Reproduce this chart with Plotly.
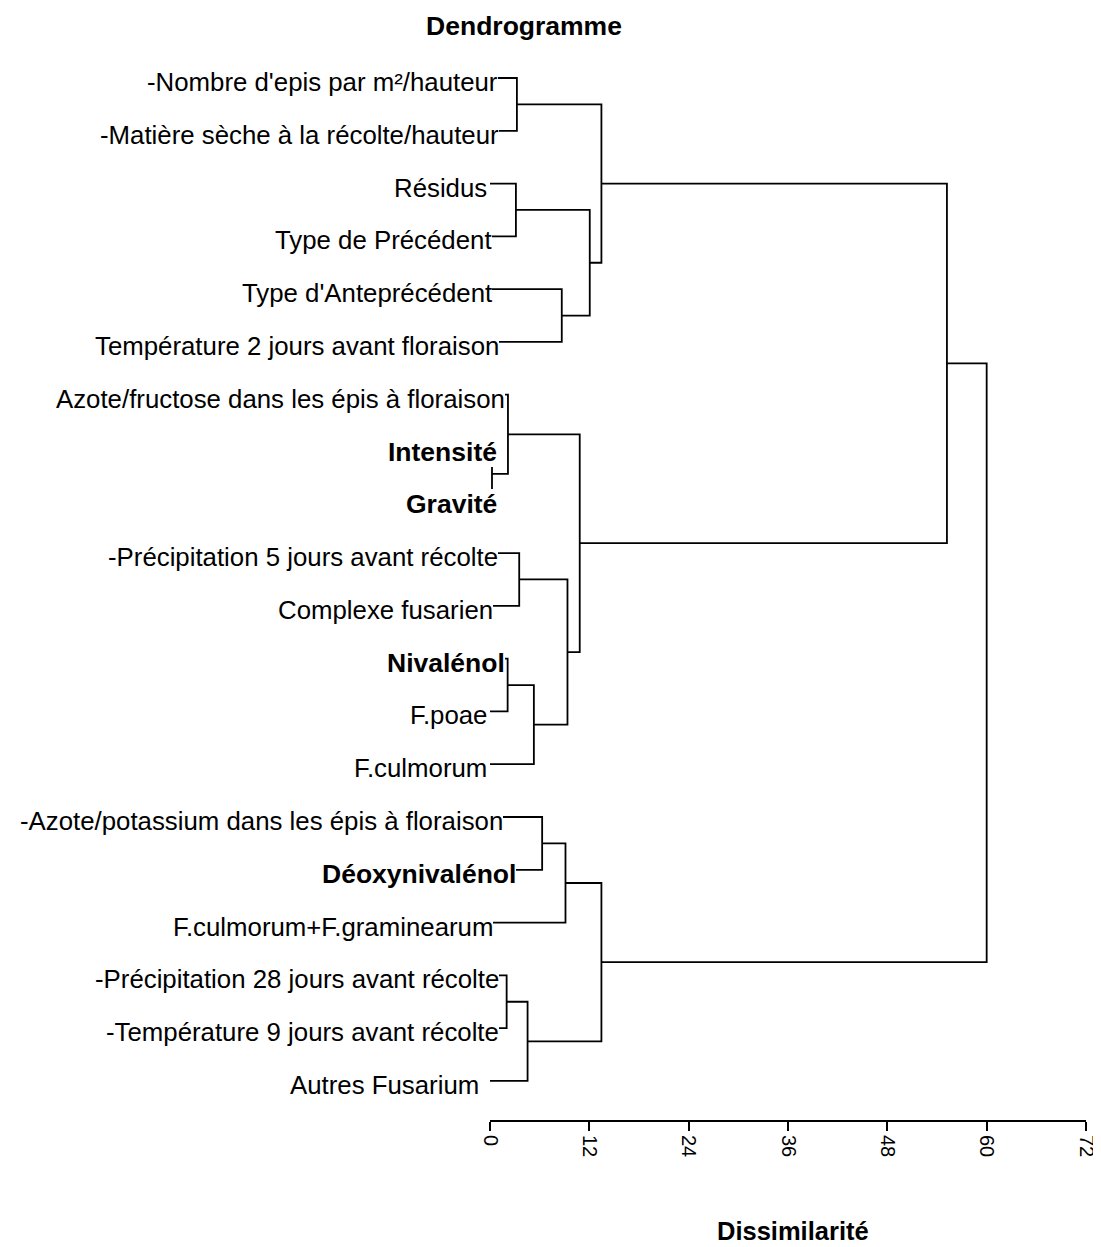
import plotly.graph_objects as go

# ---------------- data ----------------
leaf_labels = [
    "-Nombre d'epis par m²/hauteur",
    "-Matière sèche à la récolte/hauteur",
    "Résidus",
    "Type de Précédent",
    "Type d'Anteprécédent",
    "Température 2 jours avant floraison",
    "Azote/fructose dans les épis à floraison",
    "Intensité",
    "Gravité",
    "-Précipitation 5 jours avant récolte",
    "Complexe fusarien",
    "Nivalénol",
    "F.poae",
    "F.culmorum",
    "-Azote/potassium dans les épis à floraison",
    "Déoxynivalénol",
    "F.culmorum+F.graminearum",
    "-Précipitation 28 jours avant récolte",
    "-Température 9 jours avant récolte",
    "Autres Fusarium",
]
bold_labels = ["Intensité", "Gravité", "Nivalénol", "Déoxynivalénol"]

# merges: (child a, child b) ; ids >= 20 refer to earlier merges (20 + index)
merge_left = [0, 2, 4, 21, 20, 7, 6, 9, 11, 28, 27, 26, 24, 14, 33, 17, 35, 34, 32]
merge_right = [1, 3, 5, 22, 23, 8, 25, 10, 12, 13, 29, 30, 31, 15, 16, 18, 19, 36, 37]
merge_height = [3.25, 3.13, 8.67, 12.05, 13.46, 0.24, 2.17, 3.53, 2.13, 5.3,
                9.36, 10.84, 55.2, 6.3, 9.12, 2.01, 4.54, 13.46, 60.0]

tick_values = [0, 12, 24, 36, 48, 60, 72]

# ---------------- layout helpers ----------------
# page-pixel right edges of the leaf labels
label_right_px = [498, 499, 487, 492, 492, 499, 505, 497, 497, 498,
                  493, 505, 487, 487, 503, 516, 493, 499, 499, 479]

OFF = 8  # default body margin of the html page
FIG_W, FIG_H = 1101 - OFF, 1247 - OFF
PLOT_L, PLOT_R = 490 - OFF, 1086 - OFF      # figure px of x=0 and x=72
PLOT_T, PLOT_B = 40 - OFF, 1120 - OFF       # figure px of plot top / axis line

n = len(leaf_labels)
pos = {i: (0.0, float(i)) for i in range(n)}
xs, ys = [], []
for k, (a, b, h) in enumerate(zip(merge_left, merge_right, merge_height)):
    xa, ya = pos[a]
    xb, yb = pos[b]
    xs += [xa, h, h, xb, None]
    ys += [ya, ya, yb, yb, None]
    pos[n + k] = (h, (ya + yb) / 2)

fig = go.Figure()
fig.add_trace(go.Scatter(x=xs, y=ys, mode="lines",
                         line=dict(color="black", width=1.8),
                         hoverinfo="skip", showlegend=False))

FONT = "Liberation Sans, Arial, sans-serif"
annotations = []
for i, lab in enumerate(leaf_labels):
    is_bold = lab in bold_labels
    txt = f"<b>{lab}</b>" if is_bold else lab
    annotations.append(dict(
        x=0, y=i, xref="x", yref="y", text=txt, showarrow=False,
        xanchor="right", yanchor="middle",
        xshift=label_right_px[i] - 490, yshift=-4,
        font=dict(family=FONT, size=26.5 if is_bold else 25.8, color="black"),
        bgcolor="white", borderpad=0, borderwidth=0,
    ))

plot_w = PLOT_R - PLOT_L
plot_h = PLOT_B - PLOT_T
annotations.append(dict(
    x=(793 - 490) / plot_w, y=-(1231 - 1120) / plot_h, xref="paper", yref="paper",
    text="<b>Dissimilarité</b>", showarrow=False, xanchor="center", yanchor="middle",
    font=dict(family=FONT, size=25.5, color="black"),
))

fig.update_layout(
    width=FIG_W, height=FIG_H, autosize=False,
    margin=dict(l=PLOT_L, r=FIG_W - PLOT_R, t=PLOT_T, b=FIG_H - PLOT_B, pad=0,
                autoexpand=False),
    paper_bgcolor="white", plot_bgcolor="white", showlegend=False,
    title=dict(text="<b>Dendrogramme</b>", x=(524 - OFF) / FIG_W, xanchor="center",
               y=1 - (26 - OFF) / FIG_H, yanchor="middle",
               font=dict(family=FONT, size=26.5, color="black")),
    annotations=annotations,
    xaxis=dict(range=[0, 72], tickvals=tick_values, ticktext=[str(v) for v in tick_values],
               showline=True, linecolor="black", linewidth=1.8,
               ticks="outside", ticklen=9, tickwidth=1.8, tickcolor="black",
               tickangle=90, tickfont=dict(family=FONT, size=20, color="black"),
               showgrid=False, zeroline=False, fixedrange=True, automargin=False),
    yaxis=dict(range=[19.74, -0.72], showticklabels=False, showgrid=False,
               zeroline=False, showline=False, ticks="", fixedrange=True,
               automargin=False),
)

fig.write_html("out.html")
